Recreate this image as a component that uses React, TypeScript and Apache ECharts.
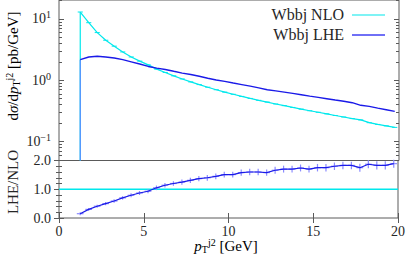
import React, { useEffect, useRef } from 'react';
import * as echarts from 'echarts';

// bin centres (GeV)
const X = [1.25, 1.75, 2.25, 2.75, 3.25, 3.75, 4.25, 4.75, 5.25, 5.75, 6.25, 6.75, 7.25, 7.75, 8.25, 8.75, 9.25, 9.75, 10.25, 10.75, 11.25, 11.75, 12.25, 12.75, 13.25, 13.75, 14.25, 14.75, 15.25, 15.75, 16.25, 16.75, 17.25, 17.75, 18.25, 18.75, 19.25, 19.75];
// dσ/dpT [pb/GeV]
const NLO = [13.0, 8.7, 6.0, 4.5, 3.6, 2.9, 2.4, 2.05, 1.78, 1.52, 1.34, 1.18, 1.05, 0.94, 0.85, 0.77, 0.70, 0.64, 0.59, 0.545, 0.505, 0.47, 0.44, 0.41, 0.385, 0.36, 0.338, 0.318, 0.30, 0.283, 0.266, 0.251, 0.237, 0.225, 0.203, 0.19, 0.18, 0.17];
const LHE = [2.17, 2.40, 2.46, 2.40, 2.31, 2.17, 2.0, 1.84, 1.68, 1.58, 1.50, 1.40, 1.31, 1.24, 1.16, 1.08, 1.01, 0.96, 0.90, 0.85, 0.80, 0.75, 0.70, 0.67, 0.64, 0.61, 0.58, 0.55, 0.525, 0.50, 0.475, 0.455, 0.43, 0.39, 0.375, 0.35, 0.33, 0.31];
// LHE/NLO ratio and its error
const RATIO = [0.15, 0.30, 0.41, 0.50, 0.59, 0.70, 0.79, 0.87, 0.93, 1.05, 1.14, 1.20, 1.25, 1.31, 1.37, 1.40, 1.45, 1.51, 1.51, 1.58, 1.60, 1.60, 1.58, 1.66, 1.70, 1.70, 1.74, 1.70, 1.75, 1.75, 1.80, 1.83, 1.83, 1.75, 1.87, 1.83, 1.83, 1.89];
const RATIO_ERR = [0.05, 0.05, 0.05, 0.06, 0.06, 0.06, 0.07, 0.07, 0.07, 0.08, 0.08, 0.08, 0.09, 0.09, 0.09, 0.1, 0.1, 0.1, 0.1, 0.11, 0.11, 0.11, 0.11, 0.12, 0.12, 0.12, 0.12, 0.12, 0.13, 0.13, 0.13, 0.13, 0.13, 0.14, 0.14, 0.14, 0.14, 0.14];
// NLO/NLO reference line
const REF_RATIO = [[0, 1], [20, 1]];

const X_TICKS = [0, 5, 10, 15, 20];
const Y_MAJOR_EXP = [-1, 0, 1];
const RATIO_TICKS = [0, 1, 2];
const LEGEND = ['Wbbj NLO', 'Wbbj LHE'];

const LOG_MIN = -1.31;
const LOG_MAX = 1.31;

const FONT = 'Liberation Serif';
const TXT = '#262626';
const CYAN = '#00e8ec';
const BLUE = '#1a1ae8';
const BLUE_EDGE = '#5b8cff';
const BLUE_ERR = '#8c8cff';
const BORDER = '#5a5a5a';

const minorLogs: number[] = [];
for (let n = -2; n <= 1; n++) {
  for (let k = 2; k <= 9; k++) {
    const v = Math.log10(k * Math.pow(10, n));
    if (v > LOG_MIN && v < LOG_MAX) minorLogs.push(v);
  }
}

const supRich = {
  b: { fontFamily: FONT, fontSize: 14, color: TXT, lineHeight: 18 },
  sup: { fontFamily: FONT, fontSize: 10, color: TXT, lineHeight: 12, verticalAlign: 'top' as const },
};

const labelRich = {
  i: { fontFamily: FONT, fontSize: 15, fontStyle: 'italic' as const, color: TXT, lineHeight: 17 },
  n: { fontFamily: FONT, fontSize: 15, color: TXT, lineHeight: 17 },
  sup: { fontFamily: FONT, fontSize: 10, color: TXT, lineHeight: 12, verticalAlign: 'top' as const },
  sub: { fontFamily: FONT, fontSize: 10, color: TXT, lineHeight: 10, verticalAlign: 'bottom' as const },
};

export default function App() {
  const ref = useRef<HTMLDivElement>(null);
  useEffect(() => {
    if (!ref.current) return;
    const chart = echarts.init(ref.current, undefined, { renderer: 'svg' });
    const tickStyle = { color: BORDER, width: 1 };
    const yTop = (extra: any) => ({
      type: 'value',
      gridIndex: 0,
      min: LOG_MIN,
      max: LOG_MAX,
      axisLine: { show: false },
      splitLine: { show: false },
      ...extra,
    });
    const option: any = {
      animation: false,
      grid: [
        { left: 59, right: 9, top: 0, height: 160.5, show: true, borderColor: BORDER, borderWidth: 1, backgroundColor: 'transparent' },
        { left: 59, right: 9, top: 160.5, height: 57.5, show: true, borderColor: BORDER, borderWidth: 1, backgroundColor: 'transparent' },
      ],
      xAxis: [
        { type: 'value', gridIndex: 0, min: 0, max: 20, show: false },
        {
          type: 'value', gridIndex: 1, min: 0, max: 20, interval: 5, position: 'bottom',
          axisLine: { show: false }, splitLine: { show: false },
          axisTick: { show: true, inside: true, length: 5, lineStyle: tickStyle, customValues: X_TICKS },
          axisLabel: { show: true, margin: 6, fontFamily: FONT, fontSize: 14, color: TXT, customValues: X_TICKS },
        },
        {
          type: 'value', gridIndex: 1, min: 0, max: 20, interval: 5, position: 'top',
          axisLine: { show: false }, splitLine: { show: false },
          axisTick: { show: true, inside: true, length: 5, lineStyle: tickStyle, customValues: X_TICKS },
          axisLabel: { show: false },
        },
      ],
      yAxis: [
        yTop({
          position: 'left',
          axisTick: { show: true, inside: true, length: 5, lineStyle: tickStyle, customValues: Y_MAJOR_EXP },
          axisLabel: {
            show: true, margin: 8, customValues: Y_MAJOR_EXP,
            formatter: (v: number) => `{b|10}{sup|${v < 0 ? '\u2212' + Math.abs(v) : Math.round(v)}}`,
            rich: supRich,
          },
        }),
        yTop({
          position: 'left',
          axisTick: { show: true, inside: true, length: 3, lineStyle: tickStyle, customValues: minorLogs },
          axisLabel: { show: false },
        }),
        yTop({
          position: 'right',
          axisTick: { show: true, inside: true, length: 5, lineStyle: tickStyle, customValues: Y_MAJOR_EXP },
          axisLabel: { show: false },
        }),
        yTop({
          position: 'right',
          axisTick: { show: true, inside: true, length: 3, lineStyle: tickStyle, customValues: minorLogs },
          axisLabel: { show: false },
        }),
        {
          type: 'value', gridIndex: 1, min: 0, max: 2, interval: 1, position: 'left',
          axisLine: { show: false }, splitLine: { show: false },
          axisTick: { show: true, inside: true, length: 5, lineStyle: tickStyle },
          minorTick: { show: true, splitNumber: 5, length: 3, lineStyle: tickStyle },
          axisLabel: {
            show: true, margin: 8, fontFamily: FONT, fontSize: 14, color: TXT,
            customValues: RATIO_TICKS,
            formatter: (v: number) => v.toFixed(1),
          },
        },
        {
          type: 'value', gridIndex: 1, min: 0, max: 2, interval: 1, position: 'right',
          axisLine: { show: false }, splitLine: { show: false },
          axisTick: { show: true, inside: true, length: 5, lineStyle: tickStyle },
          minorTick: { show: true, splitNumber: 5, length: 3, lineStyle: tickStyle },
          axisLabel: { show: false },
        },
      ],
      series: [
        {
          type: 'custom', xAxisIndex: 0, yAxisIndex: 0,
          data: [[X[0], Math.log10(NLO[0]), 0], [X[0], Math.log10(LHE[0]), 1]],
          renderItem: (params: any, api: any) => {
            const p1 = api.coord([api.value(0), api.value(1)]);
            const p2 = api.coord([api.value(0), LOG_MIN]);
            return {
              type: 'line',
              shape: { x1: p1[0], y1: p1[1], x2: p2[0], y2: p2[1] },
              style: { stroke: api.value(2) === 0 ? CYAN : BLUE_EDGE, lineWidth: 1.2 },
            };
          },
          z: 2,
        },
        {
          type: 'line', name: LEGEND[0], xAxisIndex: 0, yAxisIndex: 0,
          data: X.map((x, i) => [x, Math.log10(NLO[i])]),
          showSymbol: false, lineStyle: { color: CYAN, width: 1.2 }, z: 3,
        },
        {
          type: 'custom', xAxisIndex: 0, yAxisIndex: 0,
          data: X.map((x, i) => [x, Math.log10(NLO[i])]),
          renderItem: (params: any, api: any) => {
            const a = api.coord([api.value(0) - 0.15, api.value(1)]);
            const b = api.coord([api.value(0) + 0.15, api.value(1)]);
            return {
              type: 'line',
              shape: { x1: a[0], y1: a[1], x2: b[0], y2: b[1] },
              style: { stroke: CYAN, lineWidth: 1 },
            };
          },
          z: 3,
        },
        {
          type: 'line', name: LEGEND[1], xAxisIndex: 0, yAxisIndex: 0,
          data: X.map((x, i) => [x, Math.log10(LHE[i])]),
          showSymbol: false, lineStyle: { color: BLUE, width: 1.4 }, z: 4,
        },
        {
          type: 'line', xAxisIndex: 1, yAxisIndex: 4,
          data: REF_RATIO,
          showSymbol: false, lineStyle: { color: CYAN, width: 1.3 }, z: 2,
        },
        {
          type: 'custom', xAxisIndex: 1, yAxisIndex: 4,
          data: X.map((x, i) => [x, RATIO[i], RATIO_ERR[i]]),
          renderItem: (params: any, api: any) => {
            const x = api.value(0), y = api.value(1), e = api.value(2);
            const t = api.coord([x, y + e]);
            const b = api.coord([x, y - e]);
            const l = api.coord([x - 0.2, y]);
            const r = api.coord([x + 0.2, y]);
            return {
              type: 'group',
              children: [
                { type: 'line', shape: { x1: t[0], y1: t[1], x2: b[0], y2: b[1] }, style: { stroke: BLUE_ERR, lineWidth: 1.2 } },
                { type: 'line', shape: { x1: l[0], y1: l[1], x2: r[0], y2: r[1] }, style: { stroke: BLUE_ERR, lineWidth: 1.2 } },
              ],
            };
          },
          z: 3,
        },
        {
          type: 'line', xAxisIndex: 1, yAxisIndex: 4,
          data: X.map((x, i) => [x, RATIO[i]]),
          showSymbol: false, lineStyle: { color: BLUE, width: 1.2 }, z: 4,
        },
      ],
      graphic: [
        {
          type: 'text', x: 344, y: 14,
          style: { text: LEGEND[0], align: 'right', verticalAlign: 'middle', fontFamily: FONT, fontSize: 16, fill: TXT },
        },
        {
          type: 'text', x: 344, y: 34,
          style: { text: LEGEND[1], align: 'right', verticalAlign: 'middle', fontFamily: FONT, fontSize: 16, fill: TXT },
        },
        { type: 'line', shape: { x1: 352, y1: 15, x2: 385, y2: 15 }, style: { stroke: CYAN, lineWidth: 1.2 } },
        { type: 'line', shape: { x1: 352, y1: 35, x2: 385, y2: 35 }, style: { stroke: BLUE_ERR, lineWidth: 1.6 } },
        { type: 'line', shape: { x1: 352, y1: 35, x2: 385, y2: 35 }, style: { stroke: BLUE, lineWidth: 0.8 } },
        {
          type: 'text', x: 13, y: 66, rotation: Math.PI / 2,
          style: {
            text: '{n|d}{i|σ}{n|/d}{i|p}{sub|T}{sup|j2}{n| [pb/GeV]}',
            rich: labelRich, align: 'center', verticalAlign: 'middle',
          },
        },
        {
          type: 'text', x: 13, y: 182, rotation: Math.PI / 2,
          style: {
            text: 'LHE/NLO', fontFamily: FONT, fontSize: 15, fill: TXT,
            align: 'center', verticalAlign: 'middle',
          },
        },
        {
          type: 'text', x: 226, y: 246,
          style: {
            text: '{i|p}{sub|T}{sup|j2}{n| [GeV]}',
            rich: labelRich, align: 'center', verticalAlign: 'middle',
          },
        },
      ],
    };
    chart.setOption(option);
    return () => chart.dispose();
  }, []);
  return <div ref={ref} style={{ width: 408, height: 257, position: 'absolute', left: 0, top: 0 }} />;
}
